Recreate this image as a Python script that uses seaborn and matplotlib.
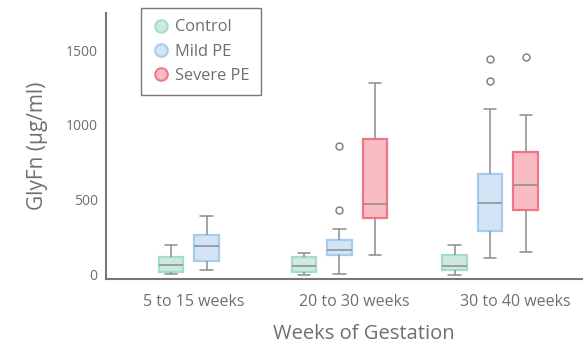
import matplotlib
matplotlib.use("Agg")
import matplotlib.pyplot as plt
import pandas as pd
import seaborn as sns
from matplotlib.colors import to_hex
from matplotlib.lines import Line2D
from matplotlib.transforms import ScaledTranslation

# Gestation windows and patient groups
weeks = ["5 to 15 weeks", "20 to 30 weeks", "30 to 40 weeks"]
groups = ["Control", "Mild PE", "Severe PE"]

# Five-number summaries (whisker low, Q1, median, Q3, whisker high) in µg/ml
control_stats = [(5, 22, 67, 122, 200), (0, 18, 60, 116, 144), (0, 29, 58, 131, 200)]
mild_stats = [(31, 89, 189, 264, 393), (4, 131, 167, 233, 304), (111, 289, 482, 671, 1109)]
severe_stats = [None, (131, 378, 471, 909, 1280), (153, 433, 602, 818, 1064)]

# Outlying measurements beyond the whiskers
control_outliers = [[], [], []]
mild_outliers = [[], [431, 862], [1296, 1440]]
severe_outliers = [[], [], [1453]]

face_colors = {"Control": "#cde9e2", "Mild PE": "#d2e4f5", "Severe PE": "#f9bcc0"}
edge_colors = {"Control": "#a6dccd", "Mild PE": "#a6cdef", "Severe PE": "#f07589"}
line_grey = "#8c8c8c"
axis_grey = "#777777"
text_grey = "#6f6f6f"


def sample_from_summary(stats, outliers):
    """Observations whose quartiles/whiskers reproduce a five-number summary."""
    lo, q1, med, q3, hi = stats
    m = len(outliers) + 1
    return [lo] + [q1] * m + [med] * m + [q3] * m + [hi] + sorted(outliers)


rows = []
all_stats = {"Control": (control_stats, control_outliers),
             "Mild PE": (mild_stats, mild_outliers),
             "Severe PE": (severe_stats, severe_outliers)}
for g in groups:
    stats_list, out_list = all_stats[g]
    for w, st, out in zip(weeks, stats_list, out_list):
        if st is None:
            continue
        for v in sample_from_summary(st, out):
            rows.append({"week": w, "group": g, "value": v})
df = pd.DataFrame(rows)

sns.set_theme(style="white")
plt.rcParams["font.family"] = ["Open Sans", "DejaVu Sans"]

fig = plt.figure(figsize=(5.83, 3.44), dpi=100)
ax = fig.add_axes([106 / 583, 1 - 279 / 344, 476 / 583, 266 / 344])

slot = 0.236
for w in weeks:
    sub = df[df["week"] == w]
    present = [g for g in groups if g in set(sub["group"])]
    sns.boxplot(data=sub, x="week", y="value", hue="group", order=weeks,
                hue_order=present, palette=[face_colors[g] for g in present],
                saturation=1, width=slot * len(present), gap=0.31, dodge=True,
                linecolor=line_grey, linewidth=1.1, fliersize=5,
                flierprops=dict(marker="o", markerfacecolor="white",
                                markeredgecolor="#7a7a7a", markeredgewidth=1.0),
                legend=False, ax=ax)

# Coloured outlines for the boxes
face_to_edge = {to_hex(face_colors[g]): edge_colors[g] for g in groups}
for p in ax.patches:
    fc = to_hex(p.get_facecolor()[:3])
    if fc in face_to_edge:
        p.set_edgecolor(face_to_edge[fc])
        p.set_linewidth(1.6)
        p.set_zorder(1.5)

ax.set_xlim(-0.55, 2.61)
ax.set_ylim(-28, 1747)
ax.set_yticks([0, 500, 1000, 1500])

for side in ["top", "right"]:
    ax.spines[side].set_visible(False)
for side in ["left", "bottom"]:
    ax.spines[side].set_color(axis_grey)
    ax.spines[side].set_linewidth(1.5)

ax.tick_params(axis="both", which="major", direction="out", length=4,
               width=1.2, color=axis_grey, labelcolor=text_grey)
ax.tick_params(axis="y", pad=2, labelsize=10)
ax.tick_params(axis="x", pad=7, labelsize=11.5)

# Category labels sit slightly right of their ticks
for lab, dx in zip(ax.get_xticklabels(), [5, 15, 25]):
    lab.set_transform(lab.get_transform() + ScaledTranslation(dx / 100, 0, fig.dpi_scale_trans))

ax.set_xlabel("Weeks of Gestation", fontsize=14.5, color=text_grey)
ax.set_ylabel("GlyFn (µg/ml)", fontsize=15, color=text_grey)
ax.xaxis.set_label_coords((364 - 106) / 476, -0.17)
ax.yaxis.set_label_coords(-(106 - 48) / 476, 0.5)

handles = [Line2D([0], [0], marker="o", linestyle="none", markersize=9,
                  markerfacecolor=face_colors[g], markeredgecolor=edge_colors[g],
                  markeredgewidth=1.5, label=g) for g in groups]
leg = fig.legend(handles=handles, loc="upper left",
                 bbox_to_anchor=(141 / 583, 1 - 8 / 344), bbox_transform=fig.transFigure,
                 frameon=True, fancybox=False, framealpha=1, borderaxespad=0,
                 fontsize=11.8, handletextpad=0.35, labelspacing=0.5,
                 borderpad=0.7, handlelength=1.0)
leg.get_frame().set_edgecolor(axis_grey)
leg.get_frame().set_linewidth(1.0)
for t in leg.get_texts():
    t.set_color(text_grey)

fig.savefig("out.png", dpi=100)
